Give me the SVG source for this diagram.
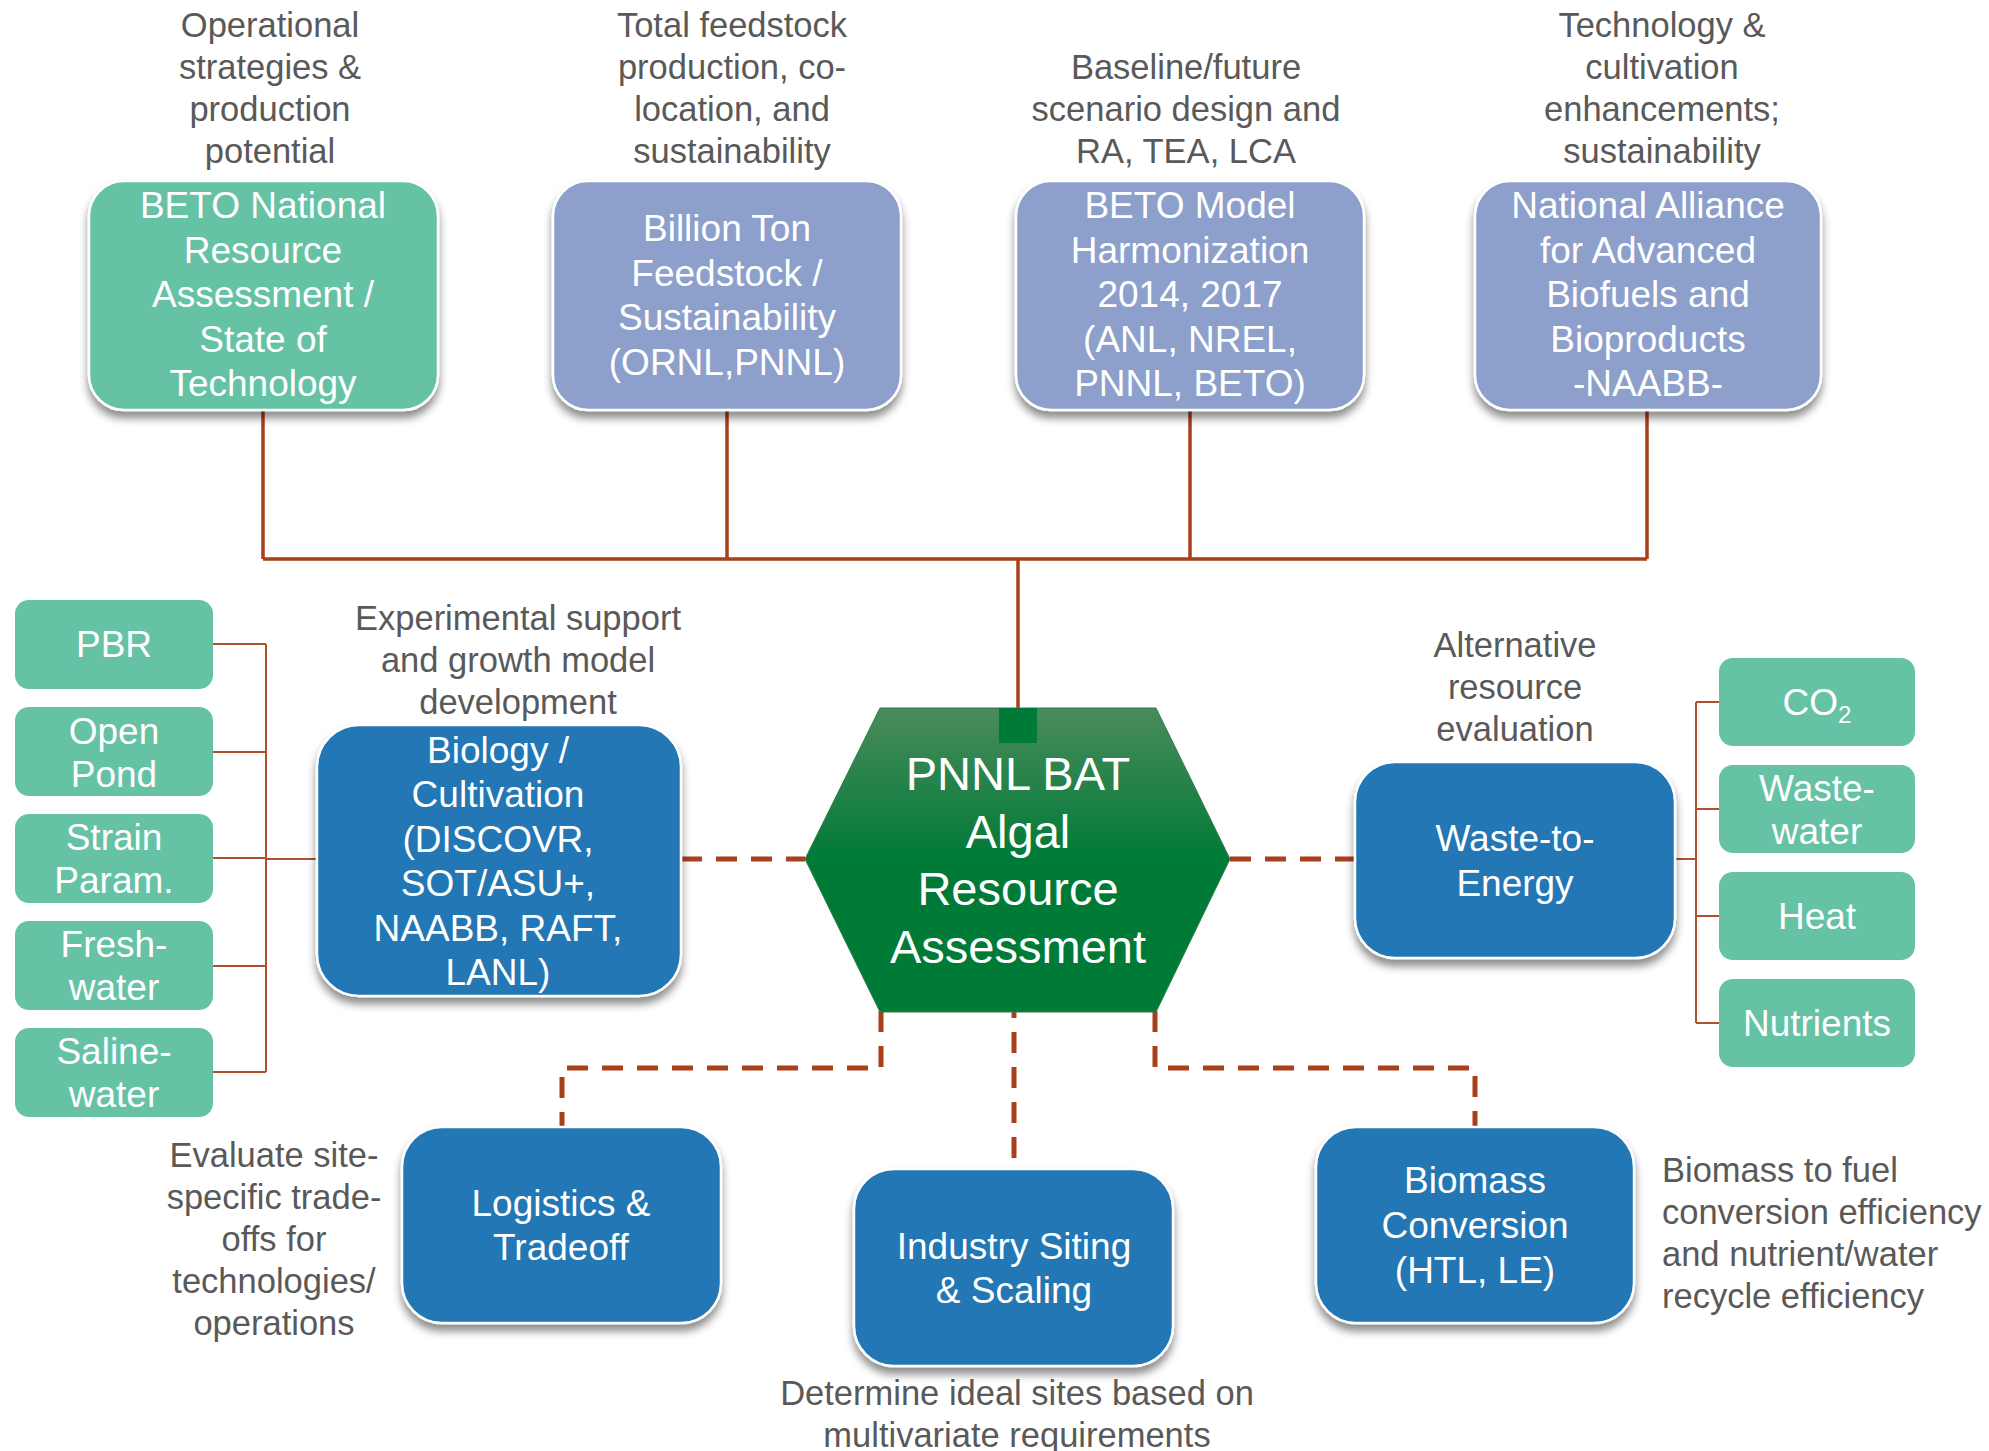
<svg xmlns="http://www.w3.org/2000/svg" width="1989" height="1451" viewBox="0 0 1989 1451">
<defs>
<filter id="sh" x="-10%" y="-10%" width="120%" height="130%">
<feDropShadow dx="0" dy="7" stdDeviation="4" flood-color="#000" flood-opacity="0.45"/>
</filter>
<linearGradient id="hexg" x1="0" y1="0" x2="0" y2="1">
<stop offset="0" stop-color="#4A8B5C"/>
<stop offset="0.5" stop-color="#007A37"/>
<stop offset="1" stop-color="#007A37"/>
</linearGradient>
<style>
.lbl{font-family:"Liberation Sans",Arial,sans-serif;font-size:34.5px;fill:#595959;text-anchor:middle}
.lbll{font-family:"Liberation Sans",Arial,sans-serif;font-size:34.5px;fill:#595959;text-anchor:start}
.bt{font-family:"Liberation Sans",Arial,sans-serif;font-size:37px;fill:#fff;text-anchor:middle}
.ht{font-family:"Liberation Sans",Arial,sans-serif;font-size:47px;fill:#fff;text-anchor:middle}
.green{fill:#66C2A5;stroke:#fff;stroke-width:2.5}
.lav{fill:#8DA0CB;stroke:#fff;stroke-width:2.5}
.blue{fill:#2077B4;stroke:#fff;stroke-width:2.5}
.sg{fill:#66C2A5}
.solid{fill:none;stroke:#A8401C;stroke-width:3.5}
.thin{fill:none;stroke:#B0502E;stroke-width:2}
.dash{fill:none;stroke:#A8401C;stroke-width:5;stroke-dasharray:21 14}
</style>
</defs>
<rect width="1989" height="1451" fill="#fff"/>

<g id="connectors">
<path class="solid" d="M263,410V559M727,410V559M1190,410V559M1647,410V559M263,559H1647M1018,559V708"/>
<path class="thin" d="M213,644H266M213,752H266M213,858H266M213,966H266M213,1072H266M266,644V1072M266,859H317"/>
<path class="thin" d="M1696,702V1023M1696,702H1719M1696,809H1719M1696,916H1719M1696,1023H1719M1675,859H1696"/>
<path class="dash" d="M681,859H805"/>
<path class="dash" d="M1230,859H1355"/>
<path class="dash" d="M1014,997V1169"/>
<path class="dash" d="M881,1011V1068H562V1127"/>
<path class="dash" d="M1155,1011V1068H1475V1127"/>
</g>

<g id="label-top1">
<text class="lbl"><tspan x="270" y="37">Operational</tspan><tspan x="270" y="79">strategies &amp;</tspan><tspan x="270" y="121">production</tspan><tspan x="270" y="163">potential</tspan></text>
</g>
<g id="label-top2">
<text class="lbl"><tspan x="732" y="37">Total feedstock</tspan><tspan x="732" y="79">production, co-</tspan><tspan x="732" y="121">location, and</tspan><tspan x="732" y="163">sustainability</tspan></text>
</g>
<g id="label-top3">
<text class="lbl"><tspan x="1186" y="79">Baseline/future</tspan><tspan x="1186" y="121">scenario design and</tspan><tspan x="1186" y="163">RA, TEA, LCA</tspan></text>
</g>
<g id="label-top4">
<text class="lbl"><tspan x="1662" y="37">Technology &amp;</tspan><tspan x="1662" y="79">cultivation</tspan><tspan x="1662" y="121">enhancements;</tspan><tspan x="1662" y="163">sustainability</tspan></text>
</g>

<g id="beto-nra">
<rect class="green" x="89" y="181" width="349" height="229" rx="35" filter="url(#sh)"/>
<text class="bt"><tspan x="263" y="218">BETO National</tspan><tspan x="263" y="263">Resource</tspan><tspan x="263" y="307">Assessment /</tspan><tspan x="263" y="352">State of</tspan><tspan x="263" y="396">Technology</tspan></text>
</g>
<g id="billion-ton">
<rect class="lav" x="553" y="181" width="348" height="229" rx="35" filter="url(#sh)"/>
<text class="bt"><tspan x="727" y="241">Billion Ton</tspan><tspan x="727" y="286">Feedstock /</tspan><tspan x="727" y="330">Sustainability</tspan><tspan x="727" y="375">(ORNL,PNNL)</tspan></text>
</g>
<g id="beto-model">
<rect class="lav" x="1016" y="181" width="348" height="229" rx="35" filter="url(#sh)"/>
<text class="bt"><tspan x="1190" y="218">BETO Model</tspan><tspan x="1190" y="263">Harmonization</tspan><tspan x="1190" y="307">2014, 2017</tspan><tspan x="1190" y="352">(ANL, NREL,</tspan><tspan x="1190" y="396">PNNL, BETO)</tspan></text>
</g>
<g id="naabb">
<rect class="lav" x="1475" y="181" width="346" height="229" rx="35" filter="url(#sh)"/>
<text class="bt"><tspan x="1648" y="218">National Alliance</tspan><tspan x="1648" y="263">for Advanced</tspan><tspan x="1648" y="307">Biofuels and</tspan><tspan x="1648" y="352">Bioproducts</tspan><tspan x="1648" y="396">-NAABB-</tspan></text>
</g>

<g id="pbr">
<rect class="sg" x="15" y="600" width="198" height="89" rx="14"/>
<text class="bt" x="114" y="657">PBR</text>
</g>
<g id="open-pond">
<rect class="sg" x="15" y="707" width="198" height="89" rx="14"/>
<text class="bt"><tspan x="114" y="744">Open</tspan><tspan x="114" y="787">Pond</tspan></text>
</g>
<g id="strain">
<rect class="sg" x="15" y="814" width="198" height="89" rx="14"/>
<text class="bt"><tspan x="114" y="850">Strain</tspan><tspan x="114" y="893">Param.</tspan></text>
</g>
<g id="freshwater">
<rect class="sg" x="15" y="921" width="198" height="89" rx="14"/>
<text class="bt"><tspan x="114" y="957">Fresh-</tspan><tspan x="114" y="1000">water</tspan></text>
</g>
<g id="salinewater">
<rect class="sg" x="15" y="1028" width="198" height="89" rx="14"/>
<text class="bt"><tspan x="114" y="1064">Saline-</tspan><tspan x="114" y="1107">water</tspan></text>
</g>

<g id="label-bio">
<text class="lbl"><tspan x="518" y="630">Experimental support</tspan><tspan x="518" y="672">and growth model</tspan><tspan x="518" y="714">development</tspan></text>
</g>
<g id="biology">
<rect class="blue" x="317" y="725" width="364" height="271" rx="42" filter="url(#sh)"/>
<text class="bt"><tspan x="498" y="763">Biology /</tspan><tspan x="498" y="807">Cultivation</tspan><tspan x="498" y="852">(DISCOVR,</tspan><tspan x="498" y="896">SOT/ASU+,</tspan><tspan x="498" y="941">NAABB, RAFT,</tspan><tspan x="498" y="985">LANL)</tspan></text>
</g>

<g id="pnnl-bat">
<polygon points="880,708 1156,708 1230,859 1156,1012 880,1012 805,859" fill="url(#hexg)" stroke="#2E7D45" stroke-width="1"/>
<rect x="999" y="708" width="38" height="35" fill="#007A37"/>
<text class="ht"><tspan x="1018" y="790">PNNL BAT</tspan><tspan x="1018" y="848">Algal</tspan><tspan x="1018" y="905">Resource</tspan><tspan x="1018" y="963">Assessment</tspan></text>
</g>

<g id="label-w2e">
<text class="lbl"><tspan x="1515" y="657">Alternative</tspan><tspan x="1515" y="699">resource</tspan><tspan x="1515" y="741">evaluation</tspan></text>
</g>
<g id="waste-to-energy">
<rect class="blue" x="1355" y="762" width="320" height="196" rx="40" filter="url(#sh)"/>
<text class="bt"><tspan x="1515" y="851">Waste-to-</tspan><tspan x="1515" y="896">Energy</tspan></text>
</g>

<g id="co2">
<rect class="sg" x="1719" y="658" width="196" height="88" rx="14"/>
<text class="bt" x="1817" y="715">CO<tspan font-size="24" dy="8">2</tspan></text>
</g>
<g id="wastewater">
<rect class="sg" x="1719" y="765" width="196" height="88" rx="14"/>
<text class="bt"><tspan x="1817" y="801">Waste-</tspan><tspan x="1817" y="844">water</tspan></text>
</g>
<g id="heat">
<rect class="sg" x="1719" y="872" width="196" height="88" rx="14"/>
<text class="bt" x="1817" y="929">Heat</text>
</g>
<g id="nutrients">
<rect class="sg" x="1719" y="979" width="196" height="88" rx="14"/>
<text class="bt" x="1817" y="1036">Nutrients</text>
</g>

<g id="label-logistics">
<text class="lbl"><tspan x="274" y="1167">Evaluate site-</tspan><tspan x="274" y="1209">specific trade-</tspan><tspan x="274" y="1251">offs for</tspan><tspan x="274" y="1293">technologies/</tspan><tspan x="274" y="1335">operations</tspan></text>
</g>
<g id="logistics">
<rect class="blue" x="402" y="1127" width="319" height="196" rx="40" filter="url(#sh)"/>
<text class="bt"><tspan x="561" y="1216">Logistics &amp;</tspan><tspan x="561" y="1260">Tradeoff</tspan></text>
</g>

<g id="industry">
<rect class="blue" x="854" y="1169" width="319" height="197" rx="40" filter="url(#sh)"/>
<text class="bt"><tspan x="1014" y="1259">Industry Siting</tspan><tspan x="1014" y="1303">&amp; Scaling</tspan></text>
</g>
<g id="label-industry">
<text class="lbl"><tspan x="1017" y="1405">Determine ideal sites based on</tspan><tspan x="1017" y="1447">multivariate requirements</tspan></text>
</g>

<g id="biomass">
<rect class="blue" x="1316" y="1127" width="318" height="196" rx="40" filter="url(#sh)"/>
<text class="bt"><tspan x="1475" y="1193">Biomass</tspan><tspan x="1475" y="1238">Conversion</tspan><tspan x="1475" y="1283">(HTL, LE)</tspan></text>
</g>
<g id="label-biomass">
<text class="lbll"><tspan x="1662" y="1182">Biomass to fuel</tspan><tspan x="1662" y="1224">conversion efficiency</tspan><tspan x="1662" y="1266">and nutrient/water</tspan><tspan x="1662" y="1308">recycle efficiency</tspan></text>
</g>
</svg>
